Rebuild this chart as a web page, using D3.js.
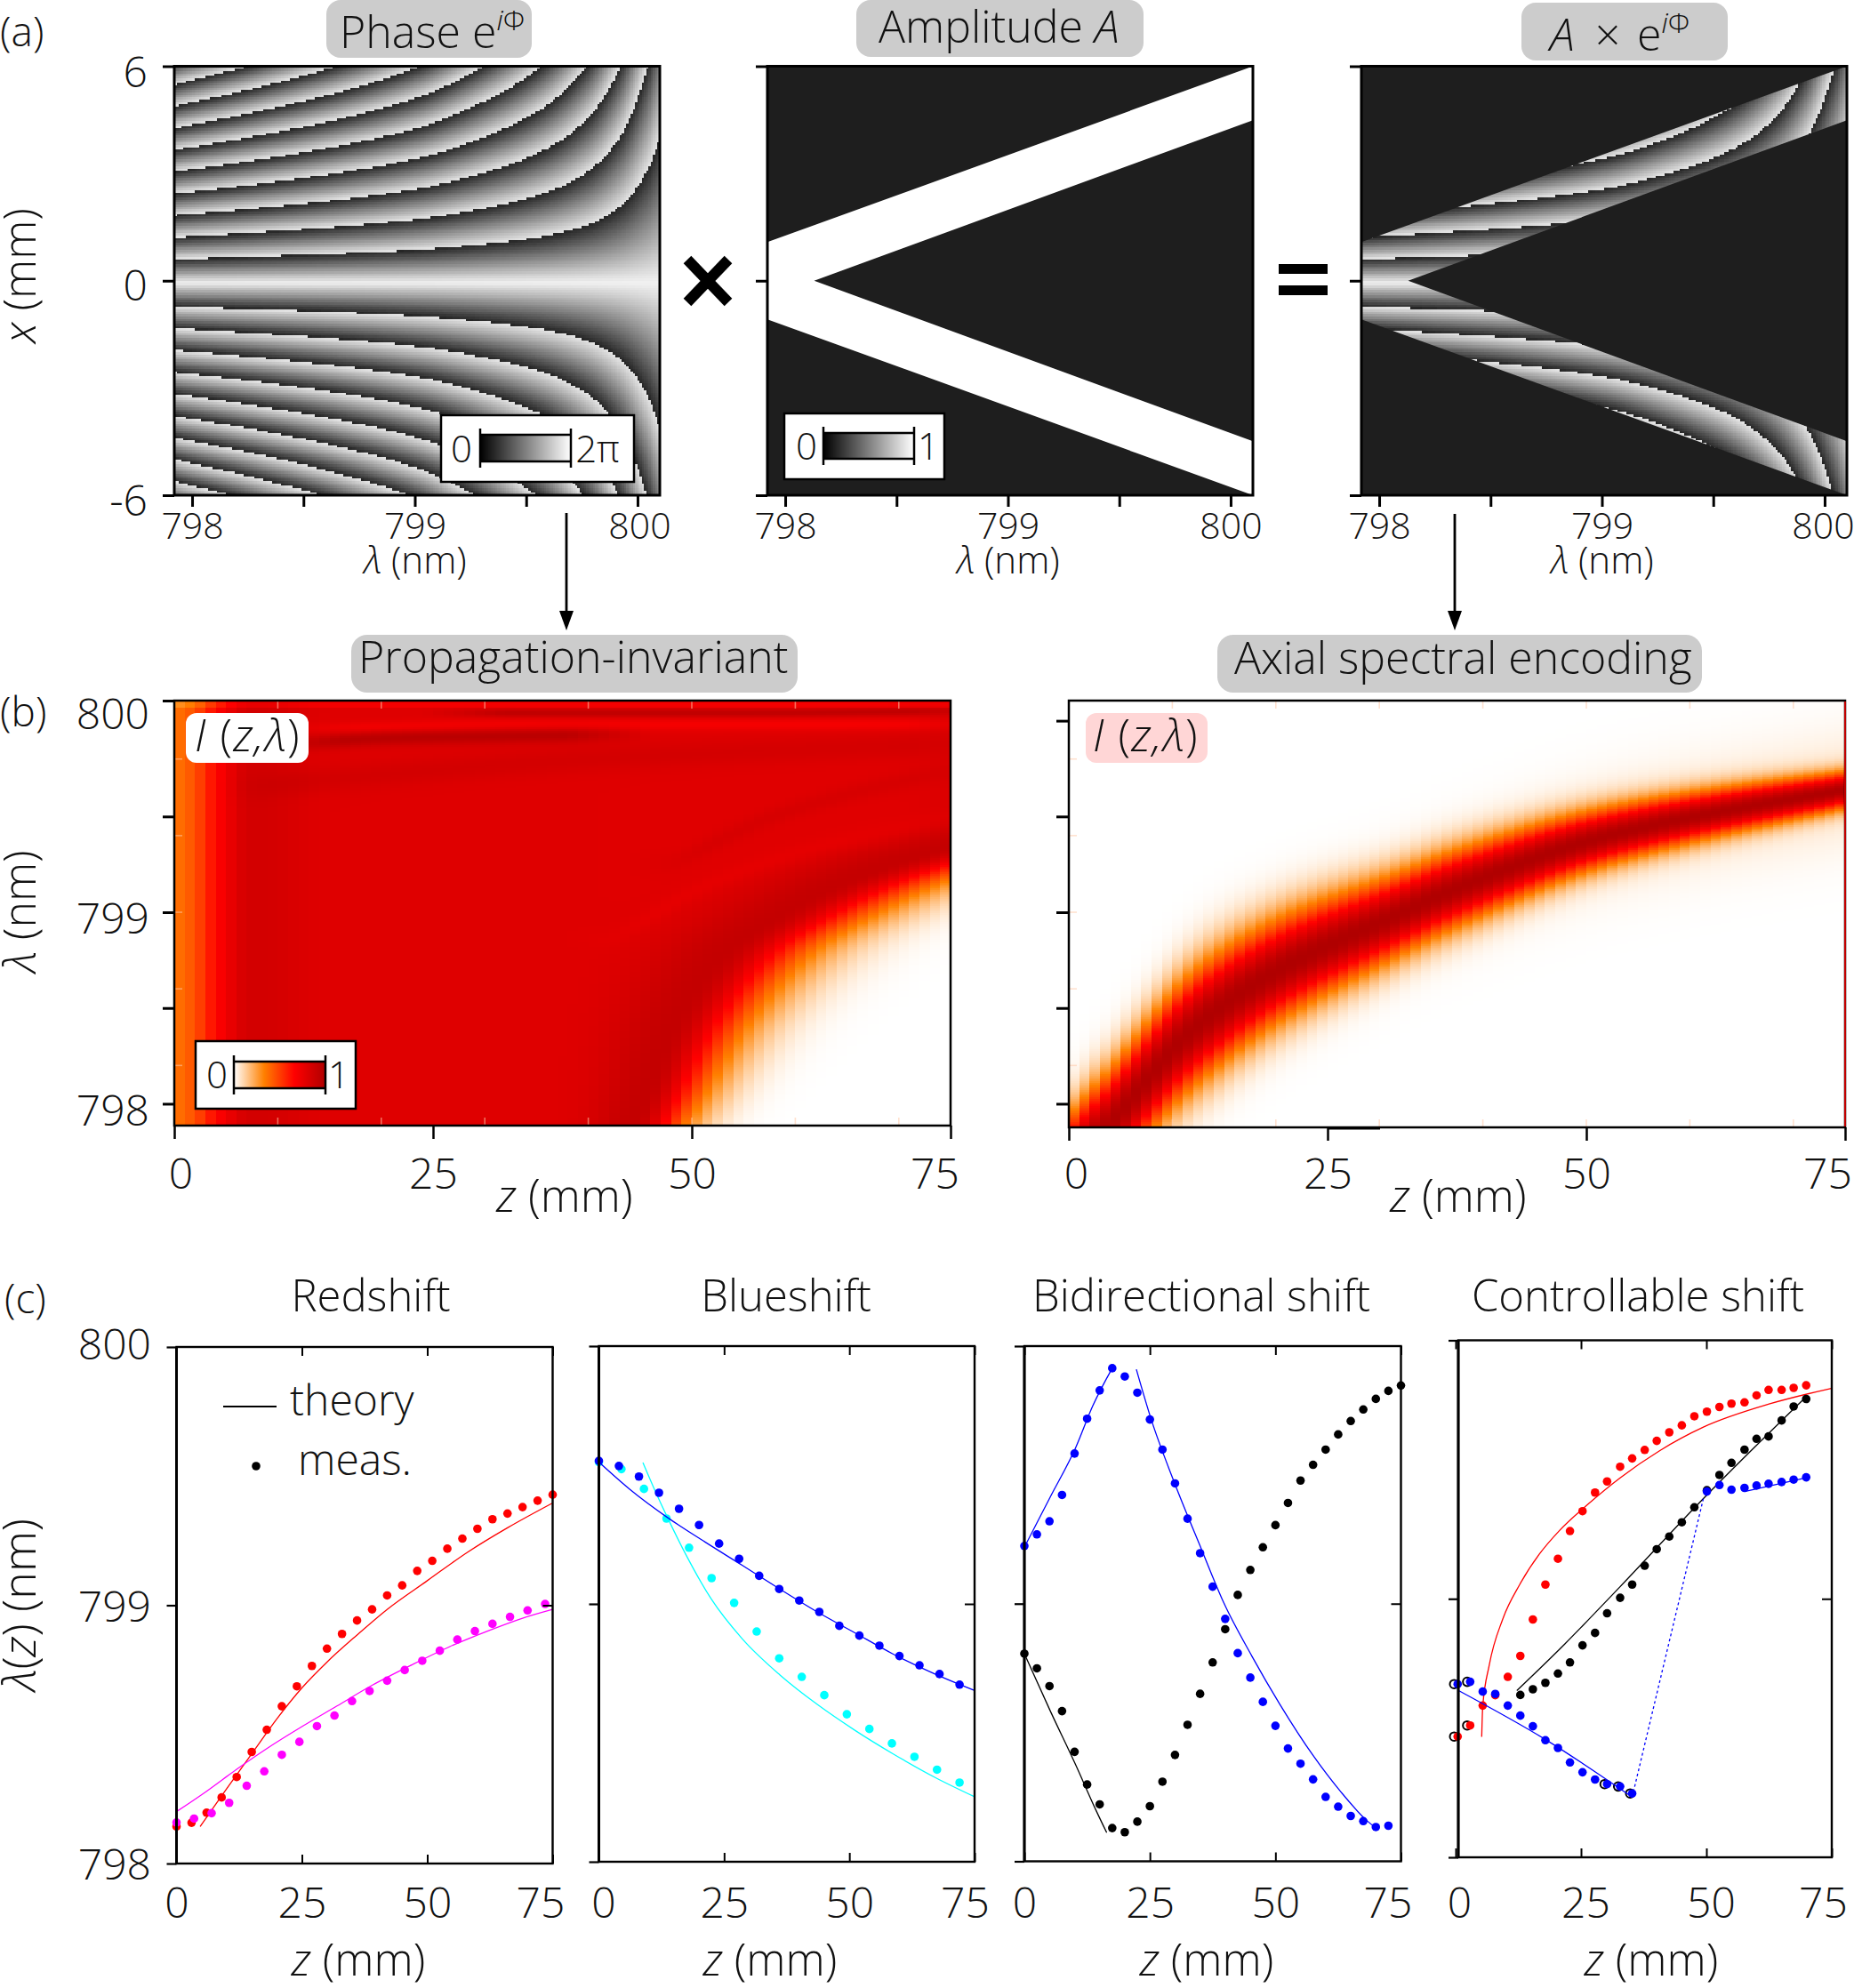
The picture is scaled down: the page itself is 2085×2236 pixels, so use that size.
<!DOCTYPE html>
<html>
<head>
<meta charset="utf-8">
<script src="https://cdn.jsdelivr.net/npm/d3@7"></script>
<style>
  html, body { margin: 0; padding: 0; background: #fff; }
  svg { display: block; }
  svg text { font-family: "Open Sans", "Noto Sans", sans-serif; font-weight: 300; fill: #111; }
  svg image { image-rendering: pixelated; }
</style>
</head>
<body>
<div id="chart"></div>
<script>
// ---- panel (a)
const phaseLambda = [797.918, 798.247, 798.646, 799.014, 799.301, 799.566, 799.771, 799.924, 800.047, 800.106];
const phasePitch  = [0.61, 0.667, 0.749, 0.852, 0.992, 1.187, 1.478, 1.963, 2.90, 3.79];
const outerLambda = [797.92, 800.1];
const outerX      = [1.08, 6.0];
const innerLambda = [798.13, 800.1];
const innerX      = [0, 4.49];
const aLambdaTicks = [798, 798.5, 799, 799.5, 800];
const aLambdaLabels = ["798", "", "799", "", "800"];
const aXTicks = [6, 0, -6];
const aXLabels = ["6", "0", "-6"];

// ---- panel (b): contours
const edgeLambda = [797.80, 797.88, 798.04, 798.42, 798.78, 798.98, 799.17, 799.5];
const edgeZ      = [48.6, 49.4, 51.2, 55.5, 61.5, 67.5, 75, 95];
const edgeWLambda = [797.88, 798.8, 799.3];
const edgeW       = [5, 8.5, 10];
const leftColumnZ = [0, 2, 3, 4, 5, 6, 7, 9, 14, 75];
const leftColumnI = [0.36, 0.45, 0.55, 0.65, 0.72, 0.8, 0.85, 0.85, 0.8, 0.79];
const streakTopDarkZ = [12, 20, 31, 42];
const streakTopDarkL = [799.88, 799.91, 799.92, 799.93];
const streakTopZ = [28, 40, 55, 75];
const streakTopL = [800.04, 800.04, 800.04, 800.05];
const streakBrightZ = [14, 35, 55, 75];
const streakBrightL = [799.96, 799.98, 799.98, 799.98];
const streakMidZ = [8, 20, 40, 75];
const streakMidL = [799.66, 799.72, 799.80, 799.88];
const streakFanZ = [42, 52, 62, 75];
const streakFanL = [798.85, 799.15, 799.33, 799.48];
const streakFan2Z = [48, 58, 66, 75];
const streakFan2L = [799.25, 799.5, 799.63, 799.74];

const bandZ     = [0, 2, 3.9, 11.7, 19.8, 31.9, 37.1, 50.6, 61.3, 75];
const bandL     = [797.68, 797.80, 797.90, 798.38, 798.69, 798.995, 799.12, 799.38, 799.51, 799.64];
const bandWidth = [0.25, 0.26, 0.27, 0.29, 0.26, 0.205, 0.19, 0.145, 0.12, 0.09];
const BAND_TAIL = 0.29;

const bLambdaTicks = [798, 798.5, 799, 799.5, 800];
const paleZTicks = [10, 20, 30, 40, 50, 60, 70];
const paleLambdaTicks = [798.2, 798.6, 799, 799.4, 799.8];
const zTicks = [0, 25, 50, 75];
const zLabels = ["0", "25", "50", "75"];

// ---- panel (c): measured points and theory lines
const z3 = d3.range(0, 76, 3);
const redshiftRedDots = [0.143,0.158,0.197,0.256,0.335,0.432,0.518,0.609,0.686,0.765,0.832,0.889,0.941,0.984,1.038,1.077,1.133,1.172,1.219,1.258,1.296,1.333,1.355,1.380,1.405,1.428];
const z35 = d3.range(0, 74, 3.5);
const redshiftMagDots = [0.159,0.174,0.195,0.235,0.301,0.357,0.421,0.471,0.532,0.573,0.629,0.668,0.708,0.749,0.785,0.824,0.867,0.900,0.928,0.955,0.980,1.005];
const redLineZ = [4.7,10,15,20,25,30,36,42,50,58,66,75];
const redLineL = [0.143,0.29,0.425,0.56,0.68,0.78,0.885,0.984,1.095,1.205,1.30,1.396];
const magLineZ = [0,6,12,18,25,32,39,47,54.5,62,69,75];
const magLineL = [0.201,0.28,0.365,0.445,0.53,0.61,0.69,0.77,0.84,0.90,0.95,0.984];

const z4 = d3.range(0, 73, 4);
const blueshiftBlueDots = [1.555,1.535,1.494,1.431,1.369,1.306,1.234,1.175,1.109,1.058,1.013,0.969,0.915,0.877,0.838,0.798,0.762,0.728,0.687];
const z45 = d3.range(0, 73, 4.5);
const blueshiftCyanDots = [1.550,1.523,1.446,1.331,1.218,1.100,1.004,0.893,0.789,0.717,0.646,0.572,0.515,0.459,0.407,0.357,0.307];
const blueLineZ = [0,6.2,13.7,21.2,28.6,36.1,43.6,51.1,58.6,67.3,75];
const blueLineL = [1.550,1.444,1.335,1.24,1.15,1.058,0.969,0.888,0.807,0.726,0.664];
const cyanLineZ = [8.8,11.2,13.7,17.4,22.4,28.6,36.1,43.6,51.1,58.6,67.3,75];
const cyanLineL = [1.548,1.44,1.335,1.19,1.02,0.865,0.725,0.61,0.51,0.42,0.325,0.252];

const z25 = d3.range(0, 76, 2.5);
const bidirBlueDots = [1.224,1.269,1.320,1.422,1.583,1.718,1.828,1.914,1.882,1.819,1.715,1.598,1.467,1.330,1.196,1.066,0.941,0.808,0.713,0.619,0.526,0.438,0.379,0.318,0.250,0.212,0.176,0.156,0.133,0.138];
const bidirBlackDots = [0.806,0.749,0.680,0.583,0.425,0.298,0.221,0.129,0.113,0.154,0.214,0.309,0.413,0.530,0.650,0.772,0.901,1.034,1.131,1.219,1.305,1.391,1.478,1.539,1.598,1.657,1.709,1.754,1.795,1.826,1.847];
const bidirBlueUpZ = [0,5.2,10.2,13.6,17.5];
const bidirBlueUpL = [1.219,1.416,1.605,1.767,1.914];
const bidirBlueDownZ = [22.3,25.3,29.7,35.3,39.7,45.3,50.9,57.5,63.1,68.1,70];
const bidirBlueDownL = [1.910,1.713,1.479,1.210,1.004,0.797,0.609,0.411,0.268,0.160,0.129];
const bidirBlackZ = [0,5.2,10.2,14.1,16.4];
const bidirBlackL = [0.806,0.582,0.375,0.205,0.111];

const ctrlRedZ = [0.4,2.9,5.4,7.9,10.4,12.9,15.4,17.9,20.4,22.8,25.3,27.8,30.2,32.8,35.2,37.7,40.1,42.6,45.1,47.6,50.1,52.6,55,57.6,60,62.4,65,67.4,69.9];
const ctrlRedDots = [0.467,0.510,0.587,0.627,0.698,0.779,0.920,1.055,1.155,1.262,1.339,1.411,1.454,1.511,1.543,1.576,1.611,1.644,1.671,1.706,1.724,1.742,1.755,1.760,1.787,1.808,1.808,1.816,1.826];
const ctrlRedLineZ = [5.2,5.4,6.7,9.4,12.8,16.7,20.6,26.1,32.8,40.6,49.4,62.8,74.9];
const ctrlRedLineL = [0.466,0.582,0.743,0.922,1.056,1.173,1.262,1.361,1.468,1.572,1.664,1.755,1.814];
const ctrlBlackZ = ctrlRedZ.slice(5);
const ctrlBlackDots = [0.628,0.650,0.675,0.711,0.754,0.820,0.868,0.944,1.004,1.055,1.128,1.192,1.241,1.296,1.354,1.420,1.479,1.526,1.577,1.619,1.628,1.690,1.744,1.773];
const ctrlBlackLineZ = [12.2,21.7,32.8,49.4,69.9];
const ctrlBlackLineL = [0.645,0.824,1.047,1.388,1.782];
const ctrlBlueZ = [0.4,2.9,5.4,7.9,10.4,12.9,15.4,17.9,20.4,22.8,25.3,27.8,30.2,32.8,35.2,50.1,52.6,55,57.6,60,62.4,65,67.4,69.9];
const ctrlBlueDots = [0.670,0.679,0.641,0.632,0.587,0.548,0.507,0.453,0.423,0.367,0.329,0.301,0.283,0.274,0.247,1.415,1.440,1.422,1.429,1.438,1.445,1.452,1.461,1.470];
const ctrlBlueLineZ = [0.6,17.8,35.2];
const ctrlBlueLineL = [0.645,0.457,0.233];
const ctrlBlueDashZ = [35.2,49.4];
const ctrlBlueDashL = [0.233,1.388];
const ctrlBlueEndZ = [57.6,69.9];
const ctrlBlueEndL = [1.415,1.468];
const ctrlOpenZ = [-0.3,2.3,-0.3,2.3,29.7,32.4,34.8];
const ctrlOpenL = [0.670,0.679,0.467,0.510,0.283,0.274,0.247];

// ---- colours and page
const DARK = "#1e1e1e";
const W = 2085, H = 2236;
const svg = d3.select("#chart").append("svg").attr("width", W).attr("height", H).attr("viewBox", `0 0 ${W} ${H}`);
const defs = svg.append("defs");
defs.append("filter").attr("id", "soft").attr("x", 0).attr("y", 0).attr("width", 1).attr("height", 1)
  .append("feGaussianBlur").attr("stdDeviation", 0.6);

const heatColor = d3.scaleLinear().domain([0, 0.33, 0.66, 1]).range(["#ffffff", "#ff8000", "#ff0000", "#b00000"]).clamp(true);

// monotone smooth reading of a table, so the contours have no corners at the nodes
function smoothAt(xs, ys) {
  const n = xs.length, h = [], s = [], m = new Array(n);
  for (let i = 0; i < n - 1; i++) { h[i] = xs[i + 1] - xs[i]; s[i] = (ys[i + 1] - ys[i]) / h[i]; }
  m[0] = s[0]; m[n - 1] = s[n - 2];
  for (let i = 1; i < n - 1; i++) m[i] = s[i - 1] * s[i] <= 0 ? 0 : 2 * s[i - 1] * s[i] / (s[i - 1] + s[i]);
  return x => {
    const c = Math.max(xs[0], Math.min(xs[n - 1], x));
    const i = Math.min(n - 2, d3.bisectRight(xs, c) - 1);
    const t = (c - xs[i]) / h[i], t2 = t * t, t3 = t2 * t;
    return (2 * t3 - 3 * t2 + 1) * ys[i] + (t3 - 2 * t2 + t) * h[i] * m[i] + (-2 * t3 + 3 * t2) * ys[i + 1] + (t3 - t2) * h[i] * m[i + 1];
  };
}
const pitchAt = smoothAt(phaseLambda, phasePitch);
const outerAt = d3.scaleLinear().domain(outerLambda).range(outerX);
const innerAt = d3.scaleLinear().domain(innerLambda).range(innerX).clamp(true);

// small text helpers
function label(parent, runs, x, y, size, anchor) {
  const t = parent.append("text").attr("x", x).attr("y", y).attr("font-size", size).attr("text-anchor", anchor || "start");
  [].concat(runs).forEach(r => {
    const o = typeof r === "string" ? { s: r } : r;
    const ts = t.append("tspan").text(o.s);
    if (o.it) ts.style("font-style", "italic");
    if (o.size) ts.attr("font-size", o.size);
    if (o.dy) ts.attr("dy", o.dy);
  });
  return t;
}
function vlabel(parent, runs, x, y, size) {
  return label(parent, runs, 0, 0, size, "middle").attr("transform", `translate(${x},${y}) rotate(-90)`);
}
function pill(x0, y0, x1, y1, r, fill) {
  svg.append("rect").attr("x", x0).attr("y", y0).attr("width", x1 - x0).attr("height", y1 - y0).attr("rx", r).attr("fill", fill);
}
function raster(cols, rows, x0, y0, x1, y1, colorAt, clip, soft) {
  const cv = document.createElement("canvas");
  cv.width = cols; cv.height = rows;
  const ctx = cv.getContext("2d");
  const img = ctx.createImageData(cols, rows);
  for (let j = 0; j < rows; j++) for (let i = 0; i < cols; i++) {
    const c = d3.rgb(colorAt((i + 0.5) / cols, (j + 0.5) / rows));
    const k = 4 * (j * cols + i);
    img.data[k] = c.r; img.data[k + 1] = c.g; img.data[k + 2] = c.b; img.data[k + 3] = 255;
  }
  ctx.putImageData(img, 0, 0);
  const im = svg.append("image").attr("x", x0).attr("y", y0).attr("width", x1 - x0).attr("height", y1 - y0)
    .attr("preserveAspectRatio", "none").attr("href", cv.toDataURL());
  if (soft) im.attr("filter", "url(#soft)");
  if (clip) im.attr("clip-path", clip);
}
function frame(x0, y0, x1, y1, sw, stroke) {
  svg.append("rect").attr("x", x0).attr("y", y0).attr("width", x1 - x0).attr("height", y1 - y0)
    .attr("fill", "none").attr("stroke", stroke || "#000").attr("stroke-width", sw);
}
function dropEmpty(g) {
  g.selectAll("text").filter(function () { return !this.textContent; }).remove();
}
function bottomAxis(scale, y, ticks, labels, len, sw, size, baseline, nudge) {
  const g = svg.append("g").attr("transform", `translate(0,${y})`)
    .call(d3.axisBottom(scale).tickValues(ticks).tickSize(len).tickFormat((d, i) => labels ? labels[i] : ""));
  g.select(".domain").remove();
  g.attr("font-size", size).attr("font-family", null);
  g.selectAll("line").attr("stroke-width", sw).attr("stroke", "#000");
  g.selectAll("text").attr("y", baseline - y).attr("dy", 0).attr("dx", (d, i) => nudge ? nudge[i] : 0);
  dropEmpty(g);
  return g;
}
function leftAxis(scale, x, ticks, labels, len, sw, size, labelX, shift) {
  const g = svg.append("g").attr("transform", `translate(${x},0)`)
    .call(d3.axisLeft(scale).tickValues(ticks).tickSize(len).tickFormat((d, i) => labels ? labels[i] : ""));
  g.select(".domain").remove();
  g.attr("font-size", size).attr("font-family", null);
  g.selectAll("line").attr("stroke-width", sw).attr("stroke", "#000");
  g.selectAll("text").attr("x", labelX - x).attr("dy", (d, i) => shift ? shift[i] : 0);
  dropEmpty(g);
  return g;
}
function colorbar(id, stops, box, bar, zeroX, endX, baseline, endText, size) {
  const grad = defs.append("linearGradient").attr("id", id);
  grad.selectAll("stop").data(stops).enter().append("stop")
    .attr("offset", d => d[0]).attr("stop-color", d => d[1]);
  svg.append("rect").attr("x", box[0]).attr("y", box[1]).attr("width", box[2] - box[0]).attr("height", box[3] - box[1])
    .attr("fill", "#fff").attr("stroke", "#000").attr("stroke-width", 2.5);
  svg.append("rect").attr("x", bar[0]).attr("y", bar[1]).attr("width", bar[2] - bar[0]).attr("height", bar[3] - bar[1])
    .attr("fill", `url(#${id})`);
  [bar[1], bar[3]].forEach(y => svg.append("line").attr("x1", bar[0]).attr("x2", bar[2]).attr("y1", y).attr("y2", y).attr("stroke", "#000").attr("stroke-width", 2.5));
  [bar[0], bar[2]].forEach(x => svg.append("line").attr("x1", x).attr("x2", x).attr("y1", bar[1] - 7).attr("y2", bar[3] + 7).attr("stroke", "#000").attr("stroke-width", 2.5));
  label(svg, "0", zeroX, baseline, size, "middle");
  label(svg, endText, endX, baseline, size, "middle");
}
function arrow(x, y0, y1) {
  svg.append("line").attr("x1", x).attr("x2", x).attr("y1", y0).attr("y2", y1 - 16).attr("stroke", "#000").attr("stroke-width", 2.8);
  svg.append("path").attr("d", d3.line()([[x - 8, y1 - 22], [x + 8, y1 - 22], [x, y1]]) + "Z").attr("fill", "#000");
}

// ---- panel (a)
const aDomain = [797.92, 800.1];
const aY = d3.scaleLinear().domain([6, -6]).range([74.5, 557]);
const a1X = d3.scaleLinear().domain(aDomain).range([196, 742]);
const a2X = d3.scaleLinear().domain(aDomain).range([863, 1409]);
const a3X = d3.scaleLinear().domain(aDomain).range([1531, 2077]);
const X_CENTER = -0.06;
const phaseGray = d3.interpolateRgb("#e4e4e4", "#262626");
const centerGray = d3.interpolateRgb("#f2f2f2", "#262626");
function phaseColor(u, v) {
  const lam = aDomain[0] + u * (aDomain[1] - aDomain[0]);
  const x = 6 - v * 12;
  const d = Math.abs(x - X_CENTER) / pitchAt(lam);
  return d < 1.09 ? centerGray(d / 1.09) : phaseGray((d - 0.09) % 1);
}
function wedgePoints(xs) {
  const L0 = aDomain[0], L1 = aDomain[1];
  return [[xs(L0), aY(outerAt(L0))], [xs(L1), aY(outerAt(L1))], [xs(L1), aY(innerAt(L1))], [xs(innerLambda[0]), aY(0)],
          [xs(L1), aY(-innerAt(L1))], [xs(L1), aY(-outerAt(L1))], [xs(L0), aY(-outerAt(L0))]];
}

raster(218, 180, a1X.range()[0], aY.range()[0], a1X.range()[1], aY.range()[1], phaseColor, null, true);

svg.append("rect").attr("x", 863).attr("y", 74.5).attr("width", 546).attr("height", 482.5).attr("fill", DARK);
svg.append("path").attr("d", d3.line()(wedgePoints(a2X)) + "Z").attr("fill", "#fff");

svg.append("rect").attr("x", 1531).attr("y", 74.5).attr("width", 546).attr("height", 482.5).attr("fill", DARK);
defs.append("clipPath").attr("id", "wedge").append("path").attr("d", d3.line()(wedgePoints(a3X)) + "Z");
raster(218, 180, 1531, 74.5, 2077, 557, phaseColor, "url(#wedge)", true);

[[196, 742], [863, 1409], [1531, 2077]].forEach(r => frame(r[0], 74.5, r[1], 557, 3));
[a1X, a2X, a3X].forEach((sc, i) => {
  bottomAxis(sc, 558, aLambdaTicks, aLambdaLabels, 12, 3, 41, 606, [0, 0, 0, 0, i === 0 ? 2 : (i === 2 ? -2 : 0)]);
  leftAxis(aY, sc.range()[0], aXTicks, i === 0 ? aXLabels : null, 13, 3, 48, 166, i === 0 ? [23, 22, 22] : null);
});

label(svg, "(a)", 0, 52, 46);
pill(367, 0, 598, 65, 16, "#cccccc");
label(svg, ["Phase e", { s: "i", it: 1, size: 32, dy: -20 }, { s: "Φ", size: 32 }], 382, 54, 50);
pill(963, 0, 1286, 64, 16, "#cccccc");
label(svg, ["Amplitude ", { s: "A", it: 1 }], 988, 48, 50);
pill(1711, 3, 1943, 68, 16, "#cccccc");
label(svg, { s: "A", it: 1 }, 1743, 57, 50);
label(svg, "×", 1808, 57, 50, "middle");
label(svg, ["e", { s: "i", it: 1, size: 32, dy: -20 }, { s: "Φ", size: 32 }], 1841, 57, 50);

[[467], [1134], [1802]].forEach(c => label(svg, [{ s: "λ", it: 1 }, " (nm)"], c[0], 645, 42, "middle"));
vlabel(svg, [{ s: "x", it: 1 }, " (mm)"], 40, 310, 50);

colorbar("grayPhase", [[0, "#000"], [1, "#fff"]], [496, 467, 713, 542], [540, 489, 642, 519], 519, 672, 520, "2π", 42);
colorbar("grayAmp", [[0, "#000"], [1, "#fff"]], [882, 465, 1062, 539], [926, 487, 1028, 516], 907, 1044, 517, "1", 42);

// the × and = signs between the maps
svg.append("path").attr("d", d3.line()([[773, 292], [819, 340]])).attr("stroke", "#000").attr("stroke-width", 12).attr("fill", "none");
svg.append("path").attr("d", d3.line()([[819, 292], [773, 340]])).attr("stroke", "#000").attr("stroke-width", 12).attr("fill", "none");
svg.append("rect").attr("x", 1438).attr("y", 297).attr("width", 55).attr("height", 11);
svg.append("rect").attr("x", 1438).attr("y", 321).attr("width", 55).attr("height", 11);

arrow(637, 577, 709);
arrow(1636, 578, 709);

// ---- panel (b)
const bL = d3.scaleLinear().domain([797.886, 800.105]).range([1266, 788]);
const b1Z = d3.scaleLinear().domain([0, 75]).range([196, 1069]);
const b2Z = d3.scaleLinear().domain([0, 75]).range([1202, 2075]);
const edgeZAt = smoothAt(edgeLambda, edgeZ);
const edgeWAt = d3.scaleLinear().domain(edgeWLambda).range(edgeW).clamp(true);
const columnI = d3.scaleLinear().domain(leftColumnZ).range(leftColumnI);
const streaks = [
  { z: streakTopDarkZ, l: streakTopDarkL, amp: 0.16, w: 0.04 },
  { z: streakTopZ, l: streakTopL, amp: 0.14, w: 0.022 },
  { z: streakBrightZ, l: streakBrightL, amp: -0.09, w: 0.03 },
  { z: streakMidZ, l: streakMidL, amp: 0.05, w: 0.07 },
  { z: streakFanZ, l: streakFanL, amp: -0.03, w: 0.05 },
  { z: streakFan2Z, l: streakFan2L, amp: 0.04, w: 0.05 }
].map(s => ({ ...s, at: smoothAt(s.z, s.l) }));

function invariantI(z, lam) {
  const w = edgeWAt(lam), dz = z - edgeZAt(lam);
  let base = columnI(z);
  streaks.forEach(s => {
    const z0 = s.z[0], z1 = s.z[s.z.length - 1];
    if (z < z0 - 4 || z > z1 + 4) return;
    const fade = Math.min(1, (z - z0 + 4) / 8, (z1 + 4 - z) / 8);
    const dl = (lam - s.at(z)) / s.w;
    base += s.amp * fade * Math.exp(-dl * dl);
  });
  if (lam > 800.07) base -= 0.09;
  base += 0.12 * Math.exp(-Math.pow((dz + w) / (0.8 * w), 2));
  if (dz > -w) base *= Math.exp(-Math.pow((dz + w) / (w / 0.93), 2));
  return base;
}
const bandAt = smoothAt(bandZ, bandL);
const bandWAt = smoothAt(bandZ, bandWidth);
function encodedI(z, lam) {
  const d = Math.abs(lam - bandAt(z));
  return 0.93 * Math.exp(-Math.pow(d / bandWAt(z), 2)) + 0.07 * Math.exp(-Math.pow(d / BAND_TAIL, 2));
}
const rows = 240;
raster(75, rows, 196, 788, 1069, 1266, (u, v) => heatColor(invariantI(u * 75, bL.invert(788 + v * 478))));
raster(75, rows, 1202, 788, 2075, 1268, (u, v) => heatColor(encodedI(u * 75, bL.invert(788 + v * 478))));

// the pale inner tick marks that show through both maps
function paleTicks(zs, y0, y1, x0) {
  const g = svg.append("g").attr("stroke", "#ffc9a8").attr("stroke-opacity", 0.55).attr("stroke-width", 1.6);
  g.selectAll(null).data(paleZTicks).enter().append("line")
    .attr("x1", d => zs(d)).attr("x2", d => zs(d)).attr("y1", y0).attr("y2", y0 + 9);
  g.selectAll(null).data(paleZTicks).enter().append("line")
    .attr("x1", d => zs(d)).attr("x2", d => zs(d)).attr("y1", y1 - 9).attr("y2", y1);
  g.selectAll(null).data(paleLambdaTicks).enter().append("line")
    .attr("x1", x0).attr("x2", x0 + 9).attr("y1", d => bL(d)).attr("y2", d => bL(d));
}
paleTicks(b1Z, 788, 1266, 196);
paleTicks(b2Z, 788, 1268, 1202);

frame(196, 788, 1069, 1266, 2.5);
frame(1202, 788, 2075, 1268, 2.5);
svg.append("line").attr("x1", 2075).attr("x2", 2075).attr("y1", 789).attr("y2", 1267).attr("stroke", "#c00000").attr("stroke-width", 2);
svg.append("line").attr("x1", 1494).attr("x2", 1552).attr("y1", 1269).attr("y2", 1269).attr("stroke", "#000").attr("stroke-width", 3);

bottomAxis(b1Z, 1266, zTicks, zLabels, 15, 2.5, 48, 1337, [7, 0, 0, -18]);
bottomAxis(b2Z, 1268, zTicks, zLabels, 15, 2.5, 48, 1337, [8, 0, 0, -20]);
leftAxis(bL, 196, [798, 798.5, 799, 799.5, 800.105], ["798", "", "799", "", "800"], 13, 3, 48, 168, [24, 0, 23, 0, 31]);
leftAxis(bL, 1202, bLambdaTicks, null, 14, 3, 48, 1180);

label(svg, "(b)", 0, 817, 46);
pill(395, 714, 897, 779, 18, "#cccccc");
label(svg, "Propagation-invariant", 403, 757, 50);
pill(1369, 714, 1914, 779, 18, "#cccccc");
label(svg, "Axial spectral encoding", 1388, 758, 50);
pill(209, 802, 347, 858, 12, "#ffffff");
pill(1221, 802, 1358, 858, 12, "#ffd6d6");
[219, 1229].forEach(x => label(svg, [{ s: "I", it: 1 }, " (", { s: "z,λ", it: 1 }, ")"], x, 845, 50).attr("letter-spacing", 1.5));
colorbar("heat", [[0, "#fff"], [0.33, "#ff8000"], [0.66, "#f00"], [1, "#b00000"]], [220, 1171, 400, 1247], [263, 1194, 366, 1224], 244, 381, 1224, "1", 42);

label(svg, [{ s: "z", it: 1 }, " (mm)"], 635, 1363, 51, "middle");
label(svg, [{ s: "z", it: 1 }, " (mm)"], 1640, 1363, 51, "middle");
vlabel(svg, [{ s: "λ", it: 1 }, "  (nm)"], 40, 1025, 50);

// ---- panel (c)
function shiftPanel(box, zeroPx, title, titleX, zLabelX, nudge, series, ticksOnLeftLabels) {
  const [x0, y0, x1, y1] = box;
  const xs = d3.scaleLinear().domain([0, 75]).range([zeroPx, x1]);
  const ys = d3.scaleLinear().domain([798, 800]).range([y1, y0]);
  const g = svg.append("g");
  const line = d3.line().x(d => xs(d[0])).y(d => ys(798 + d[1])).curve(d3.curveMonotoneX);
  series.forEach(s => {
    if (s.lz) g.append("path").attr("d", line(d3.zip(s.lz, s.ll))).attr("fill", "none").attr("stroke", s.color)
      .attr("stroke-width", 1.3).attr("stroke-dasharray", s.dash || null);
    if (s.dz) g.selectAll(null).data(d3.zip(s.dz, s.dl)).enter().append("circle")
      .attr("cx", d => xs(d[0])).attr("cy", d => ys(798 + d[1])).attr("r", 4.8)
      .attr("fill", s.open ? "none" : s.color).attr("stroke", s.open ? s.color : "none").attr("stroke-width", 2);
  });
  frame(x0, y0, x1, y1, 2.4);
  svg.append("line").attr("x1", x0).attr("x2", x0).attr("y1", y0).attr("y2", y1).attr("stroke", "#000").attr("stroke-width", 3);
  bottomAxis(xs, y1, zTicks, zLabels, -10, 2, 48, 2157, nudge);
  bottomAxis(xs, y0, zTicks, null, 10, 2, 48, 0);
  leftAxis(ys, x0, [798, 799, 800], ticksOnLeftLabels, 11, 2.2, 48, 170, ticksOnLeftLabels ? [17, 18, 13] : null);
  svg.append("g").attr("transform", `translate(${x1},0)`).call(d3.axisLeft(ys).tickValues([799]).tickSize(11).tickFormat(""))
    .call(a => { a.select(".domain").remove(); a.selectAll("line").attr("stroke-width", 2).attr("stroke", "#000"); dropEmpty(a); });
  label(svg, title, titleX, 1475, 49, "middle");
  label(svg, [{ s: "z", it: 1 }, " (mm)"], zLabelX, 2222, 50, "middle");
}

shiftPanel([198.5, 1515, 621.5, 2096], 198.5, "Redshift", 417, 403, [0, 0, 0, -14], [
  { color: "#ff0000", lz: redLineZ, ll: redLineL, dz: z3, dl: redshiftRedDots },
  { color: "#ff00ff", lz: magLineZ, ll: magLineL, dz: z35, dl: redshiftMagDots }
], ["798", "799", "800"]);
shiftPanel([673.5, 1514, 1096, 2094], 673.5, "Blueshift", 884, 866, [5, 0, 0, -11], [
  { color: "#00ffff", lz: cyanLineZ, ll: cyanLineL, dz: z45, dl: blueshiftCyanDots },
  { color: "#0000ff", lz: blueLineZ, ll: blueLineL, dz: z4, dl: blueshiftBlueDots }
]);
shiftPanel([1152, 1514, 1575.5, 2093.5], 1152, "Bidirectional shift", 1351, 1357, [0, 0, 0, -15], [
  { color: "#000000", lz: bidirBlackZ, ll: bidirBlackL, dz: z25.slice(0, 31), dl: bidirBlackDots },
  { color: "#0000ff", lz: bidirBlueUpZ, ll: bidirBlueUpL },
  { color: "#0000ff", lz: bidirBlueDownZ, ll: bidirBlueDownL, dz: z25.slice(0, 30), dl: bidirBlueDots }
]);
shiftPanel([1640, 1507.5, 2060, 2089], 1637, "Controllable shift", 1842, 1857, [4, 5, 5, -10], [
  { color: "#000000", dz: ctrlOpenZ, dl: ctrlOpenL, open: true },
  { color: "#ff0000", lz: ctrlRedLineZ, ll: ctrlRedLineL, dz: ctrlRedZ, dl: ctrlRedDots },
  { color: "#000000", lz: ctrlBlackLineZ, ll: ctrlBlackLineL, dz: ctrlBlackZ, dl: ctrlBlackDots },
  { color: "#0000ff", lz: ctrlBlueLineZ, ll: ctrlBlueLineL, dz: ctrlBlueZ, dl: ctrlBlueDots },
  { color: "#0000ff", lz: ctrlBlueDashZ, ll: ctrlBlueDashL, dash: "3,3" },
  { color: "#0000ff", lz: ctrlBlueEndZ, ll: ctrlBlueEndL }
]);

label(svg, "(c)", 5, 1477, 46);
vlabel(svg, [{ s: "λ", it: 1 }, "(", { s: "z", it: 1 }, ")  (nm)"], 40, 1805, 52);

// legend
svg.append("line").attr("x1", 251).attr("x2", 311).attr("y1", 1582).attr("y2", 1582).attr("stroke", "#000").attr("stroke-width", 2);
label(svg, "theory", 326, 1592, 48);
svg.append("circle").attr("cx", 288).attr("cy", 1649).attr("r", 4.8).attr("fill", "#000");
label(svg, "meas.", 335, 1659, 48);
</script>
</body>
</html>
